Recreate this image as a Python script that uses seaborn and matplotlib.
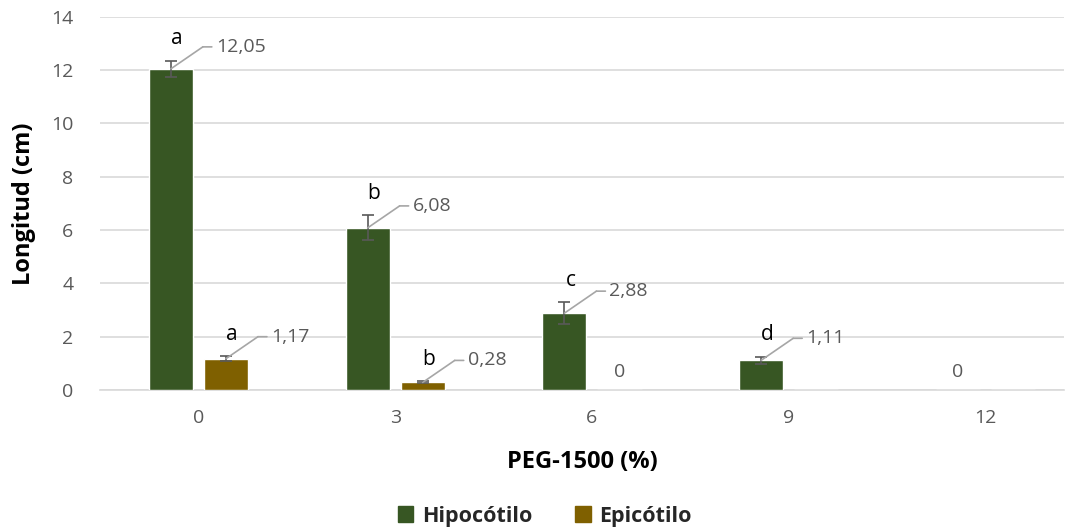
import pandas as pd
import matplotlib
matplotlib.use("Agg")
import matplotlib.pyplot as plt
from matplotlib.transforms import offset_copy
import seaborn as sns

# Data
peg_levels = ["0", "3", "6", "9", "12"]
hipocotilo = [12.05, 6.08, 2.88, 1.11, 0.0]
epicotilo = [1.17, 0.28, 0.0, 0.0, 0.0]
hipocotilo_err = [0.30, 0.47, 0.40, 0.13, 0.0]
epicotilo_err = [0.10, 0.04, 0.0, 0.0, 0.0]
hipocotilo_letters = ["a", "b", "c", "d", ""]
epicotilo_letters = ["a", "b", "", "", ""]
series_names = ["Hipocótilo", "Epicótilo"]
# which zero values carry a "0" label
hipocotilo_show = [True, True, True, True, True]
epicotilo_show = [True, True, True, False, False]

colors = {"Hipocótilo": "#375623", "Epicótilo": "#7F6000"}

sns.set_theme(style="white")
plt.rcParams["font.family"] = ["Open Sans", "DejaVu Sans"]

df = pd.DataFrame({
    "PEG": peg_levels * 2,
    "Longitud": hipocotilo + epicotilo,
    "Serie": [series_names[0]] * 5 + [series_names[1]] * 5,
})

fig = plt.figure(figsize=(10.75, 5.29), dpi=100)
ax = fig.add_axes([0.093, 0.263, 0.897, 0.705])

sns.barplot(data=df, x="PEG", y="Longitud", hue="Serie", order=peg_levels,
            hue_order=series_names, palette=colors, width=0.56, gap=0.2,
            ax=ax, legend=False, saturation=1, zorder=3)

ax.set_ylim(0, 14)
ax.set_yticks(range(0, 15, 2))
ax.set_xlim(-0.5, 4.4)
ax.yaxis.grid(True, color="#D9D9D9", linewidth=1.2, zorder=0)
ax.set_axisbelow(True)
for s in ["left", "right", "top"]:
    ax.spines[s].set_visible(False)
ax.spines["bottom"].set_color("#D9D9D9")
ax.spines["bottom"].set_linewidth(1.2)
ax.tick_params(axis="both", length=0, labelsize=14, colors="#595959")
ax.tick_params(axis="y", pad=19)
ax.tick_params(axis="x", pad=14)
ax.set_xlabel("PEG-1500 (%)", fontsize=17, fontweight="bold", color="black", labelpad=16)
ax.set_ylabel("Longitud (cm)", fontsize=17, fontweight="bold", color="black", labelpad=11)

pt = 72.0 / fig.dpi  # pixels -> points
line_kw = dict(arrowstyle="-", color="#A6A6A6", lw=1.2, shrinkA=0, shrinkB=0)

series_info = [
    (hipocotilo, hipocotilo_err, hipocotilo_letters, hipocotilo_show),
    (epicotilo, epicotilo_err, epicotilo_letters, epicotilo_show),
]

for cont, (vals, errs, letters, show) in zip(ax.containers, series_info):
    for bar, v, e, let, sh in zip(cont.patches, vals, errs, letters, show):
        cx = bar.get_x() + bar.get_width() / 2
        if v > 0:
            ax.errorbar(cx, v, yerr=e, fmt="none", ecolor="#595959",
                        elinewidth=1.2, capsize=4, capthick=1.2, zorder=4)
            # leader line: diagonal from the bar top, then a short horizontal tail
            ax.annotate("", xy=(cx, v), xycoords="data",
                        xytext=(32 * pt, 22 * pt), textcoords="offset points",
                        arrowprops=line_kw, zorder=5)
            kink = offset_copy(ax.transData, fig=fig, x=32 * pt, y=22 * pt, units="points")
            ax.annotate("", xy=(cx, v), xycoords=kink,
                        xytext=(9 * pt, 0), textcoords="offset points",
                        arrowprops=line_kw, zorder=5)
            ax.annotate(f"{v:.2f}".replace(".", ","), xy=(cx, v), xycoords="data",
                        xytext=(45 * pt, 22 * pt), textcoords="offset points",
                        ha="left", va="center", fontsize=14, color="#595959", zorder=6)
            # significance letter above the error bar
            ax.annotate(let, xy=(cx, v + e), xycoords="data",
                        xytext=(6 * pt, 22 * pt), textcoords="offset points",
                        ha="center", va="center", fontsize=15, color="black", zorder=6)
        elif sh:
            ax.annotate("0", xy=(cx, 0), xycoords="data",
                        xytext=(0, 18 * pt), textcoords="offset points",
                        ha="center", va="center", fontsize=14, color="#595959", zorder=6)

handles = [plt.Rectangle((0, 0), 1, 1, color=colors[n]) for n in series_names]
fig.legend(handles, series_names, loc="lower center", bbox_to_anchor=(0.507, -0.032),
           ncol=2, frameon=False, handlelength=0.7, handleheight=0.7,
           handletextpad=0.4, columnspacing=2.0,
           prop={"size": 15.5, "weight": "bold"})

fig.savefig("out.png", dpi=100)
